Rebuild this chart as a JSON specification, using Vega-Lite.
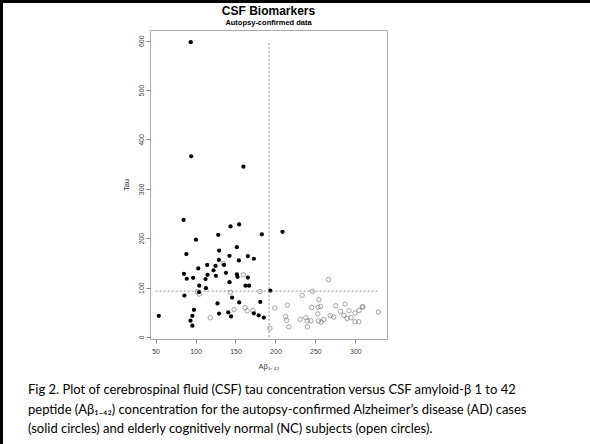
{
  "$schema": "https://vega.github.io/schema/vega-lite/v6.json",
  "background": "white",
  "padding": 0,
  "spacing": 0,
  "datasets": {
    "pts": [
      {"a": 54, "tau": 43, "g": "AD"},
      {"a": 85, "tau": 237, "g": "AD"},
      {"a": 86, "tau": 84, "g": "AD"},
      {"a": 85.5, "tau": 128, "g": "AD"},
      {"a": 88.5, "tau": 168, "g": "AD"},
      {"a": 89, "tau": 118, "g": "AD"},
      {"a": 93.7, "tau": 33, "g": "AD"},
      {"a": 94, "tau": 597, "g": "AD"},
      {"a": 94.5, "tau": 366, "g": "AD"},
      {"a": 96, "tau": 23, "g": "AD"},
      {"a": 96, "tau": 43, "g": "AD"},
      {"a": 97, "tau": 120, "g": "AD"},
      {"a": 98, "tau": 55, "g": "AD"},
      {"a": 100.5, "tau": 197, "g": "AD"},
      {"a": 103.4, "tau": 139, "g": "AD"},
      {"a": 104.6, "tau": 104, "g": "AD"},
      {"a": 104.5, "tau": 91, "g": "AD"},
      {"a": 112.5, "tau": 117.5, "g": "AD"},
      {"a": 113, "tau": 99, "g": "AD"},
      {"a": 114.6, "tau": 146, "g": "AD"},
      {"a": 115, "tau": 126, "g": "AD"},
      {"a": 122.5, "tau": 135, "g": "AD"},
      {"a": 125, "tau": 144, "g": "AD"},
      {"a": 125.5, "tau": 124, "g": "AD"},
      {"a": 127.5, "tau": 68, "g": "AD"},
      {"a": 128.4, "tau": 207, "g": "AD"},
      {"a": 129.2, "tau": 156, "g": "AD"},
      {"a": 129.6, "tau": 175, "g": "AD"},
      {"a": 129.4, "tau": 47.5, "g": "AD"},
      {"a": 135.5, "tau": 146, "g": "AD"},
      {"a": 138, "tau": 130, "g": "AD"},
      {"a": 140.9, "tau": 50, "g": "AD"},
      {"a": 142.5, "tau": 164.5, "g": "AD"},
      {"a": 142.5, "tau": 111, "g": "AD"},
      {"a": 143.8, "tau": 224, "g": "AD"},
      {"a": 144.4, "tau": 41.7, "g": "AD"},
      {"a": 145.7, "tau": 80, "g": "AD"},
      {"a": 151.7, "tau": 182, "g": "AD"},
      {"a": 151.7, "tau": 127, "g": "AD"},
      {"a": 152.5, "tau": 122, "g": "AD"},
      {"a": 154.2, "tau": 155, "g": "AD"},
      {"a": 154.6, "tau": 70, "g": "AD"},
      {"a": 154.6, "tau": 228, "g": "AD"},
      {"a": 160, "tau": 345, "g": "AD"},
      {"a": 162.5, "tau": 104, "g": "AD"},
      {"a": 165.5, "tau": 164, "g": "AD"},
      {"a": 165.5, "tau": 120.5, "g": "AD"},
      {"a": 167, "tau": 104, "g": "AD"},
      {"a": 173, "tau": 158.5, "g": "AD"},
      {"a": 173, "tau": 48, "g": "AD"},
      {"a": 179, "tau": 44, "g": "AD"},
      {"a": 181, "tau": 71, "g": "AD"},
      {"a": 183, "tau": 208, "g": "AD"},
      {"a": 185.5, "tau": 39.5, "g": "AD"},
      {"a": 193.5, "tau": 94, "g": "AD"},
      {"a": 208.8, "tau": 213, "g": "AD"},
      {"a": 102.5, "tau": 92, "g": "NC"},
      {"a": 104.5, "tau": 87, "g": "NC"},
      {"a": 118.4, "tau": 39, "g": "NC"},
      {"a": 134.5, "tau": 149, "g": "NC"},
      {"a": 143.6, "tau": 90.5, "g": "NC"},
      {"a": 148.2, "tau": 55.5, "g": "NC"},
      {"a": 159.6, "tau": 126, "g": "NC"},
      {"a": 162, "tau": 59.5, "g": "NC"},
      {"a": 164.6, "tau": 53.3, "g": "NC"},
      {"a": 171.8, "tau": 53.8, "g": "NC"},
      {"a": 180.7, "tau": 92.3, "g": "NC"},
      {"a": 193, "tau": 17.6, "g": "NC"},
      {"a": 199.2, "tau": 58.7, "g": "NC"},
      {"a": 214.8, "tau": 64.5, "g": "NC"},
      {"a": 212.8, "tau": 41.5, "g": "NC"},
      {"a": 214, "tau": 33.6, "g": "NC"},
      {"a": 216.9, "tau": 20.6, "g": "NC"},
      {"a": 231, "tau": 36, "g": "NC"},
      {"a": 233.4, "tau": 84.5, "g": "NC"},
      {"a": 238, "tau": 39, "g": "NC"},
      {"a": 240, "tau": 20.5, "g": "NC"},
      {"a": 240, "tau": 32.7, "g": "NC"},
      {"a": 244.2, "tau": 32.7, "g": "NC"},
      {"a": 245.3, "tau": 59.9, "g": "NC"},
      {"a": 246.3, "tau": 92.6, "g": "NC"},
      {"a": 254.4, "tau": 75.5, "g": "NC"},
      {"a": 253.2, "tau": 60.3, "g": "NC"},
      {"a": 256.5, "tau": 61.9, "g": "NC"},
      {"a": 253, "tau": 46.8, "g": "NC"},
      {"a": 253.8, "tau": 32.7, "g": "NC"},
      {"a": 257.2, "tau": 30.3, "g": "NC"},
      {"a": 260.5, "tau": 35.7, "g": "NC"},
      {"a": 266.5, "tau": 116.3, "g": "NC"},
      {"a": 268.6, "tau": 43.4, "g": "NC"},
      {"a": 273, "tau": 40.5, "g": "NC"},
      {"a": 275.5, "tau": 63.3, "g": "NC"},
      {"a": 281.5, "tau": 51.8, "g": "NC"},
      {"a": 285.5, "tau": 43.7, "g": "NC"},
      {"a": 287.1, "tau": 66.8, "g": "NC"},
      {"a": 289.6, "tau": 37.6, "g": "NC"},
      {"a": 292.1, "tau": 53.2, "g": "NC"},
      {"a": 294.6, "tau": 39, "g": "NC"},
      {"a": 299.6, "tau": 48.6, "g": "NC"},
      {"a": 299.6, "tau": 31, "g": "NC"},
      {"a": 304.3, "tau": 31, "g": "NC"},
      {"a": 304.6, "tau": 53.8, "g": "NC"},
      {"a": 308.8, "tau": 61.3, "g": "NC"},
      {"a": 309.6, "tau": 60.7, "g": "NC"},
      {"a": 328.8, "tau": 50.6, "g": "NC"}
    ],
    "cut": [{"ab": 192, "tau": 93, "abLo": 50, "abHi": 330, "tauLo": 0, "tauHi": 600}]
  },
  "vconcat": [
    {
      "width": 590,
      "height": 3,
      "data": {"values": []},
      "mark": "point",
      "view": {"fill": "black", "stroke": null}
    },
    {
      "spacing": 25,
      "hconcat": [
        {
          "width": 3,
          "height": 441,
          "data": {"values": []},
          "mark": "point",
          "view": {"fill": "black", "stroke": null}
        },
        {
          "spacing": 0,
          "title": {
            "text": [
              "Fig 2. Plot of cerebrospinal fluid (CSF) tau concentration versus CSF amyloid-β 1 to 42",
              "peptide (Aβ₁₋₄₂) concentration for the autopsy-confirmed Alzheimer’s disease (AD) cases",
              "(solid circles) and elderly cognitively normal (NC) subjects (open circles)."
            ],
            "orient": "bottom",
            "anchor": "start",
            "frame": "group",
            "font": "Lato",
            "fontSize": 13,
            "fontWeight": "normal",
            "color": "black",
            "lineHeight": 19.5,
            "offset": 14,
            "dx": -122
          },
          "vconcat": [
            {
              "width": 1,
              "height": 1,
              "data": {"values": []},
              "mark": "point",
              "view": {"stroke": null}
            },
            {
              "width": 237,
              "height": 309,
              "title": {
                "text": "CSF Biomarkers",
                "subtitle": "Autopsy-confirmed data",
                "anchor": "middle",
                "font": "Liberation Sans",
                "fontSize": 12,
                "fontWeight": "bold",
                "color": "black",
                "subtitleFont": "Liberation Sans",
                "subtitleFontSize": 7.5,
                "subtitleFontWeight": "bold",
                "subtitleColor": "black",
                "offset": 3,
                "subtitlePadding": 1
              },
              "layer": [
                {
                  "data": {"name": "pts"},
                  "transform": [{"filter": "datum.g === 'NC'"}],
                  "mark": {"type": "point", "shape": "circle", "filled": false, "stroke": "#555", "strokeWidth": 0.75, "size": 20},
                  "encoding": {
                    "x": {"field": "a", "type": "quantitative", "scale": {"domain": [43, 339.6], "nice": false, "zero": false},
                      "axis": {"values": [50, 100, 150, 200, 250, 300], "title": "Aβ₁₋₄₂"}},
                    "y": {"field": "tau", "type": "quantitative", "scale": {"domain": [-4, 621.7], "nice": false, "zero": false},
                      "axis": {"values": [0, 100, 200, 300, 400, 500, 600], "title": "Tau", "labelAngle": 270}}
                  }
                },
                {
                  "data": {"name": "pts"},
                  "transform": [{"filter": "datum.g === 'AD'"}],
                  "mark": {"type": "circle", "color": "black", "opacity": 1, "size": 18},
                  "encoding": {
                    "x": {"field": "a", "type": "quantitative"},
                    "y": {"field": "tau", "type": "quantitative"}
                  }
                },
                {
                  "data": {"name": "cut"},
                  "mark": {"type": "rule", "color": "#777", "strokeWidth": 0.8, "strokeDash": [2, 2]},
                  "encoding": {
                    "x": {"field": "ab", "type": "quantitative"},
                    "y": {"field": "tauLo", "type": "quantitative"},
                    "y2": {"field": "tauHi"}
                  }
                },
                {
                  "data": {"name": "cut"},
                  "mark": {"type": "rule", "color": "#777", "strokeWidth": 0.8, "strokeDash": [2, 2]},
                  "encoding": {
                    "y": {"field": "tau", "type": "quantitative"},
                    "x": {"field": "abLo", "type": "quantitative"},
                    "x2": {"field": "abHi"}
                  }
                }
              ]
            }
          ]
        }
      ]
    }
  ],
  "config": {
    "view": {"stroke": "#aaa", "strokeWidth": 1},
    "axis": {
      "grid": false,
      "domain": false,
      "tickColor": "#666",
      "tickSize": 4,
      "tickWidth": 0.8,
      "labelFont": "Liberation Sans",
      "labelFontSize": 7,
      "labelColor": "#444",
      "titleFont": "Liberation Sans",
      "titleFontSize": 7.5,
      "titleFontWeight": "normal",
      "titleColor": "#333"
    },
    "axisX": {"labelPadding": 4, "titlePadding": 8},
    "axisY": {"labelPadding": 2, "titlePadding": 7}
  }
}
